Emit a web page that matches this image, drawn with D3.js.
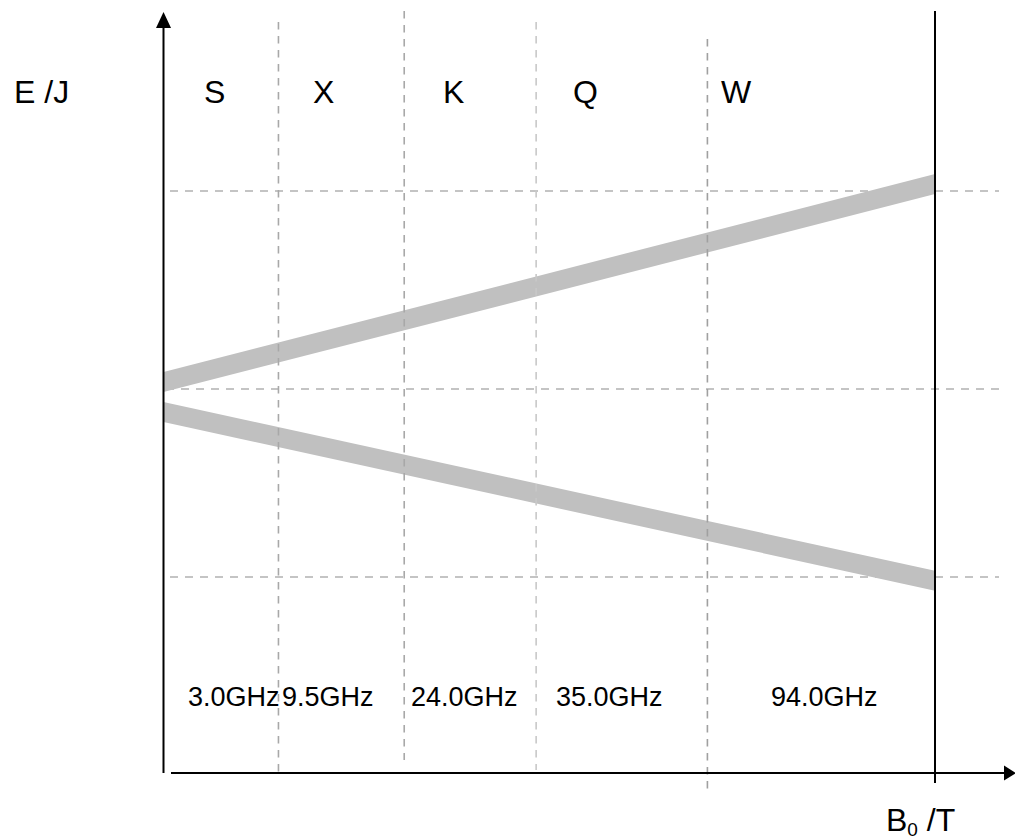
<!DOCTYPE html>
<html>
<head>
<meta charset="utf-8">
<script src="https://cdn.jsdelivr.net/npm/d3@7"></script>
<style>
  body { margin: 0; background: #fff; }
  svg { display: block; font-family: "Liberation Sans", Arial, sans-serif; }
</style>
</head>
<body>
<svg id="chart"></svg>
<script>
// data
const bandNames = ["S", "X", "K", "Q", "W"];
const bandFreqs = ["3.0GHz", "9.5GHz", "24.0GHz", "35.0GHz", "94.0GHz"];
// field positions (normalised B0) of the dashed band dividers
const dividerB = [0.149, 0.312, 0.483, 0.705];
// energy levels for the horizontal dashed guides
const levelE = [1, 0, -1];
// Zeeman levels: energy at B0 = 0 and at B0 = 1
const upperLevel = [{ b: 0, e: 0.035 }, { b: 1, e: 1.035 }];
const lowerLevel = [{ b: 0, e: -0.122 }, { b: 1, e: -1.02 }];

const W = 1015, H = 840;
const svg = d3.select("#chart").attr("width", W).attr("height", H);

// scales
const x = d3.scaleLinear().domain([0, 1]).range([163.5, 935]);
const y = d3.scaleLinear().domain([-1, 0, 1]).range([577, 389, 191]);

// divider styles (top, bottom, colour)
const dividerStyle = [
    { top: 22, bottom: 774, color: "#a8a8a8" },
    { top: 11, bottom: 760, color: "#a8a8a8" },
    { top: 22, bottom: 770, color: "#c8c8c8" },
    { top: 39, bottom: 790, color: "#a0a0a0" }
];

// horizontal dashed guides
svg.append("g").selectAll("line")
    .data(levelE)
    .join("line")
    .attr("x1", (d, i) => i === 1 ? 166 : 170)
    .attr("x2", 999)
    .attr("y1", d => y(d))
    .attr("y2", d => y(d))
    .attr("stroke", "#c4c4c4")
    .attr("stroke-width", 2)
    .attr("stroke-dasharray", "8,7");

// energy level bands, drawn as areas so the ends are cut vertically
const halfBand = 10;
const band = d3.area()
    .x(d => x(d.b))
    .y0(d => y(d.e) - halfBand)
    .y1(d => y(d.e) + halfBand);

svg.append("g").selectAll("path")
    .data([upperLevel, lowerLevel])
    .join("path")
    .attr("d", band)
    .attr("fill", "#c0c0c0");

// vertical dashed dividers
svg.append("g").selectAll("line")
    .data(dividerB)
    .join("line")
    .attr("x1", d => x(d))
    .attr("x2", d => x(d))
    .attr("y1", (d, i) => dividerStyle[i].top)
    .attr("y2", (d, i) => dividerStyle[i].bottom)
    .attr("stroke", (d, i) => dividerStyle[i].color)
    .attr("stroke-width", 1.6)
    .attr("stroke-dasharray", "7.5,6.5");

// axes
const axisG = svg.append("g").attr("stroke", "#000").attr("stroke-width", 2);
axisG.append("line")
    .attr("x1", x(0)).attr("x2", x(0))
    .attr("y1", 773).attr("y2", 26);
axisG.append("line")
    .attr("x1", 171).attr("x2", 1006)
    .attr("y1", 773).attr("y2", 773);
axisG.append("line")
    .attr("x1", x(1)).attr("x2", x(1))
    .attr("y1", 11).attr("y2", 783);

// arrow heads
svg.append("path")
    .attr("d", `M${x(0)},12 L${x(0) - 7.5},28 L${x(0) + 7.5},28 Z`)
    .attr("fill", "#000");
svg.append("path")
    .attr("d", `M1016,773 L1004,765.5 L1004,780.5 Z`)
    .attr("fill", "#000");

// band letters
const letterX = [204, 313, 443, 573, 721];
svg.append("g").selectAll("text")
    .data(bandNames)
    .join("text")
    .attr("x", (d, i) => letterX[i])
    .attr("y", 103)
    .style("font-size", "32px")
    .text(d => d);

// frequency labels
const freqX = [188, 282, 411, 556, 771];
svg.append("g").selectAll("text")
    .data(bandFreqs)
    .join("text")
    .attr("x", (d, i) => freqX[i])
    .attr("y", 706)
    .style("font-size", "27px")
    .text(d => d);

// axis titles
svg.append("text")
    .attr("x", 14)
    .attr("y", 103)
    .style("font-size", "32px")
    .text("E /J");

const bLabel = svg.append("text")
    .attr("x", 886)
    .attr("y", 831)
    .style("font-size", "32px");
bLabel.append("tspan").text("B");
bLabel.append("tspan").attr("dy", 5).style("font-size", "19px").text("0");
bLabel.append("tspan").attr("dy", -5).text(" /T");
</script>
</body>
</html>
